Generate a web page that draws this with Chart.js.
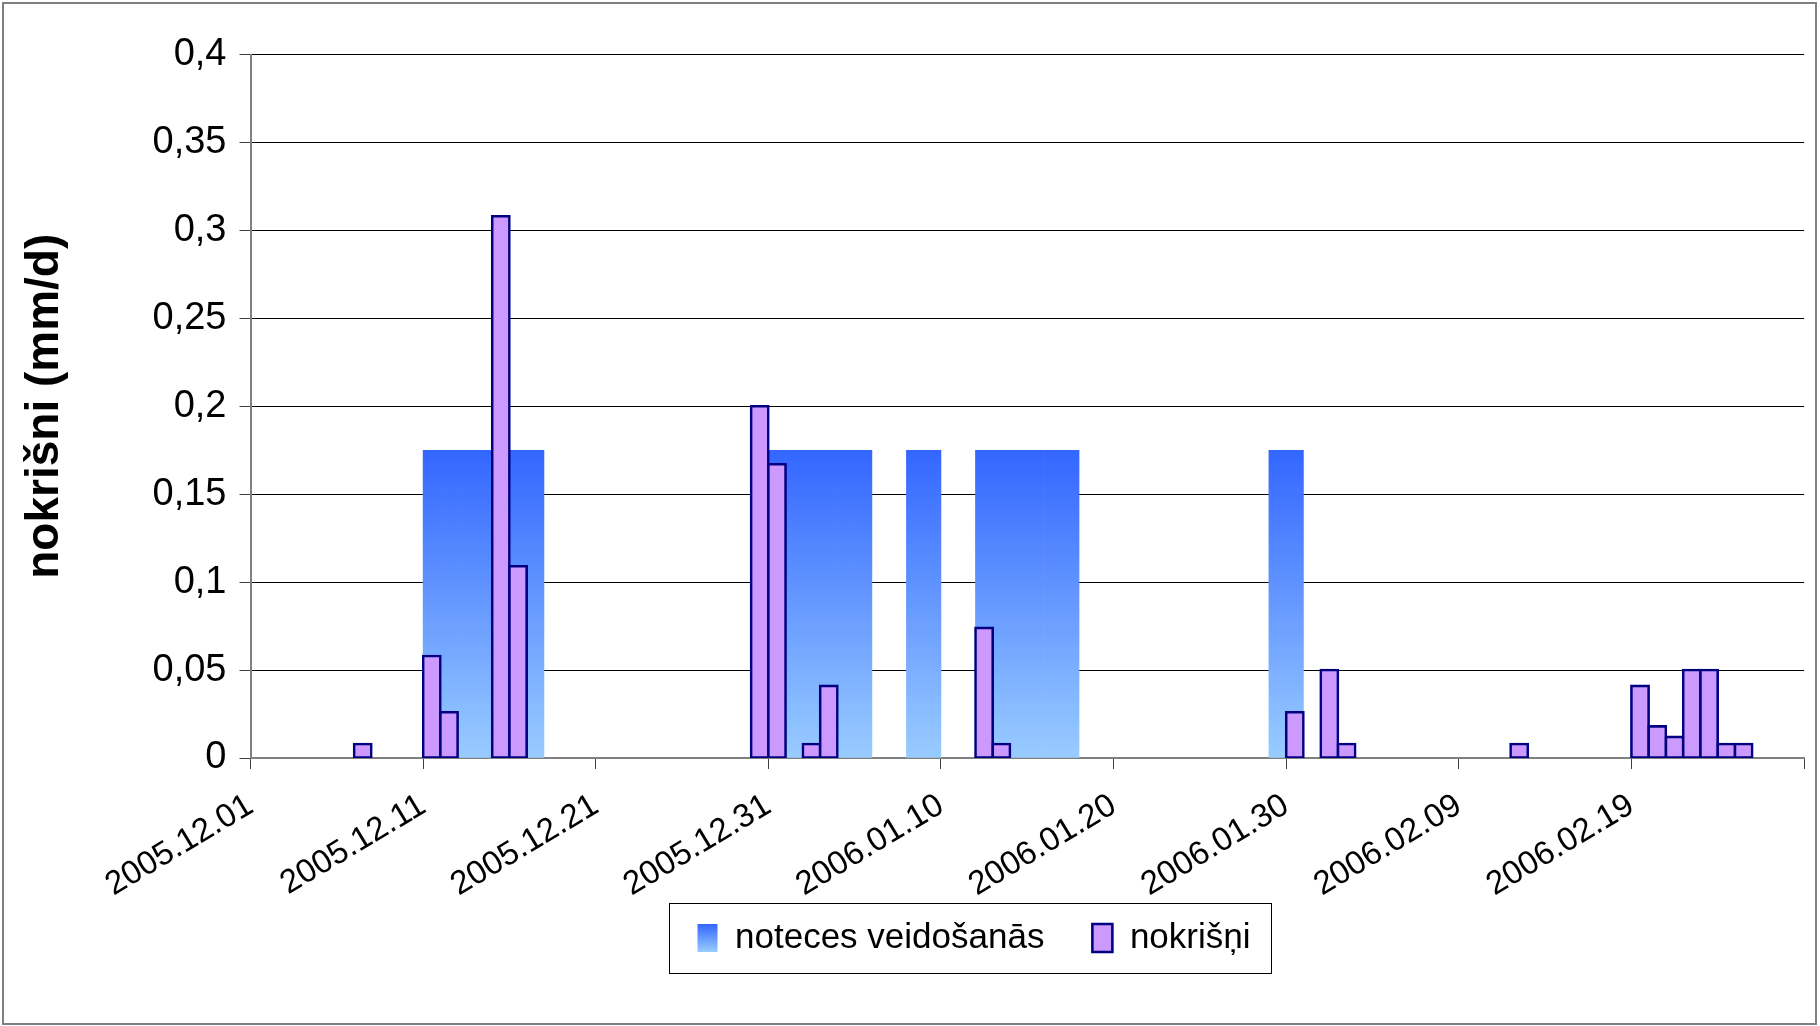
<!DOCTYPE html>
<html><head><meta charset="utf-8">
<script src="https://cdn.jsdelivr.net/npm/chart.js@4.4.1/dist/chart.umd.min.js"></script>
<style>html,body{margin:0;padding:0;background:#fff;}canvas{display:block;}</style>
</head><body>
<canvas id="c" width="1820" height="1026"></canvas>
<script>
// ---- data ----
const startDate = '2005.12.01';
const dayCount = 90;
const tickLabels = ['2005.12.01','2005.12.11','2005.12.21','2005.12.31','2006.01.10','2006.01.20','2006.01.30','2006.02.09','2006.02.19'];
const seriesNames = ['noteces veidošanās', 'nokrišņi'];
const yTitle = 'nokrišni (mm/d)';

const rainDates = ['2005.12.07','2005.12.11','2005.12.12','2005.12.15','2005.12.16','2005.12.30','2005.12.31',
  '2006.01.02','2006.01.03','2006.01.12','2006.01.13','2006.01.30','2006.02.01','2006.02.02','2006.02.12',
  '2006.02.19','2006.02.20','2006.02.21','2006.02.22','2006.02.23','2006.02.24','2006.02.25'];
const rainValues = [0.008,0.058,0.026,0.308,0.109,0.2,0.167,
  0.008,0.041,0.074,0.008,0.026,0.05,0.008,0.008,
  0.041,0.018,0.012,0.05,0.05,0.008,0.008];

const runoffDates = ['2005.12.11','2005.12.12','2005.12.13','2005.12.14','2005.12.15','2005.12.16','2005.12.17',
  '2005.12.31','2006.01.01','2006.01.02','2006.01.03','2006.01.04','2006.01.05',
  '2006.01.08','2006.01.09',
  '2006.01.12','2006.01.13','2006.01.14','2006.01.15','2006.01.16','2006.01.17',
  '2006.01.29','2006.01.30'];
const runoffValues = [0.175,0.175,0.175,0.175,0.175,0.175,0.175,
  0.175,0.175,0.175,0.175,0.175,0.175,
  0.175,0.175,
  0.175,0.175,0.175,0.175,0.175,0.175,
  0.175,0.175];

// ---- helpers ----
function dayIndex(s){
  const [y,m,d] = s.split('.').map(Number);
  const [y0,m0,d0] = startDate.split('.').map(Number);
  return Math.round((Date.UTC(y,m-1,d) - Date.UTC(y0,m0-1,d0)) / 86400000);
}
const toPoints = (dates, vals) => dates.map((d,i) => ({x: dayIndex(d) + 0.5, y: vals[i]}));

const FONT = "'Liberation Sans', Arial, sans-serif";
const TOP_BLUE = '#3366FF', BOTTOM_BLUE = '#99CCFF';
const LEGEND_FONT = 35, LEGEND_PAD = 48, LEGEND_CENTER_Y = 938, LEGEND_SHIFT_X = 72;

function runoffGradient(chart){
  const {ctx, chartArea, scales} = chart;
  if (!chartArea || !scales.y) return '#6699FF';
  const top = scales.y.getPixelForValue(Math.max(...runoffValues));
  const bottom = scales.y.getPixelForValue(0);
  const g = ctx.createLinearGradient(0, top, 0, bottom);
  g.addColorStop(0, TOP_BLUE);
  g.addColorStop(1, BOTTOM_BLUE);
  return g;
}

const frame = {
  id: 'frame',
  afterLayout(chart){
    const lg = chart.legend;
    lg.left += LEGEND_SHIFT_X; lg.right += LEGEND_SHIFT_X;
    const targetTop = LEGEND_CENTER_Y - LEGEND_FONT / 2 - LEGEND_PAD;
    const dy = targetTop - lg.top;
    lg.top += dy; lg.bottom += dy;
  },
  beforeDraw(chart){
    const ctx = chart.ctx;
    ctx.save();
    ctx.fillStyle = '#fff';
    ctx.fillRect(0,0,chart.width,chart.height);
    ctx.strokeStyle = '#808080';
    ctx.lineWidth = 2;
    ctx.strokeRect(3,3,chart.width-7,chart.height-5);
    ctx.restore();
    const lg = chart.legend;
    if (lg && lg.legendItems && lg.legendHitBoxes) {
      lg.legendItems.forEach((it, i) => {
        if (it.datasetIndex === 0) {
          const hb = lg.legendHitBoxes[i];
          const boxH = lg.options.labels.boxHeight;
          const y0 = hb.top + Math.max((LEGEND_FONT - boxH)/2, 0);
          const g = ctx.createLinearGradient(0, y0, 0, y0 + boxH);
          g.addColorStop(0, TOP_BLUE); g.addColorStop(1, BOTTOM_BLUE);
          it.fillStyle = g;
        }
      });
    }
  },
  afterDraw(chart){
    const lg = chart.legend;
    if (!lg || !lg.legendHitBoxes || !lg.legendHitBoxes.length) return;
    const hbs = lg.legendHitBoxes;
    const first = hbs[0], last = hbs[hbs.length-1];
    const ctx = chart.ctx;
    ctx.save();
    ctx.strokeStyle = '#000';
    ctx.lineWidth = 1;
    const l = Math.round(first.left - 29) + 0.5;
    const r = Math.round(last.left + last.width + 21) + 0.5;
    const t = Math.round(first.top - 17.5) + 0.5;
    const b = Math.round(first.top + first.height + 17.5) + 0.5;
    ctx.strokeRect(l, t, r - l, b - t);
    ctx.restore();
  }
};

new Chart(document.getElementById('c'), {
  type: 'bar',
  data: {
    datasets: [
      {
        label: seriesNames[0],
        data: toPoints(runoffDates, runoffValues),
        backgroundColor: (c) => runoffGradient(c.chart),
        borderWidth: 0,
        grouped: false,
        order: 1,
        categoryPercentage: 1,
        barPercentage: 1
      },
      {
        label: seriesNames[1],
        data: toPoints(rainDates, rainValues),
        backgroundColor: '#CC99FF',
        borderColor: '#000080',
        borderWidth: 2.6,
        borderSkipped: false,
        inflateAmount: 1.3,
        grouped: false,
        order: 0,
        categoryPercentage: 1,
        barPercentage: 1
      }
    ]
  },
  options: {
    responsive: false,
    devicePixelRatio: 1,
    animation: false,
    layout: { padding: { left: 0, right: 16, top: 54.5, bottom: 30 } },
    plugins: {
      tooltip: { enabled: false },
      legend: {
        position: 'bottom',
        labels: {
          font: { family: FONT, size: LEGEND_FONT },
          color: '#000',
          boxWidth: 20,
          boxHeight: 28,
          padding: LEGEND_PAD,
          sort: (a, b) => a.datasetIndex - b.datasetIndex
        }
      }
    },
    scales: {
      x: {
        type: 'linear',
        min: 0,
        max: dayCount,
        offset: false,
        afterFit: (s) => { s.height = 145; s.paddingLeft = 0; s.paddingRight = 0; },
        ticks: {
          stepSize: 10,
          autoSkip: false,
          maxRotation: 31,
          minRotation: 31,
          padding: 17,
          color: '#000',
          font: { family: FONT, size: 33 },
          callback: (v) => { const i = Math.round(v / 10); return (v % 10 === 0 && i < tickLabels.length) ? tickLabels[i] : ''; }
        },
        grid: { display: true, offset: false, drawOnChartArea: false, drawTicks: true, tickLength: 11, color: '#404040', lineWidth: 1 },
        border: { display: true, color: '#808080', width: 2 }
      },
      y: {
        min: 0,
        max: 0.4,
        afterFit: (s) => { s.width = 250.5; },
        ticks: {
          stepSize: 0.05,
          padding: 13,
          color: '#000',
          font: { family: FONT, size: 38 },
          callback: (v) => String(Math.round(v * 100) / 100).replace('.', ',')
        },
        grid: { color: '#000', lineWidth: 1, tickLength: 11, tickColor: '#404040' },
        border: { display: true, color: '#808080', width: 2 },
        title: {
          display: true,
          text: yTitle,
          color: '#000',
          font: { family: FONT, size: 46, weight: 'bold' },
          padding: { top: 18, bottom: 0 }
        }
      }
    }
  },
  plugins: [frame]
});
</script>
</body></html>
